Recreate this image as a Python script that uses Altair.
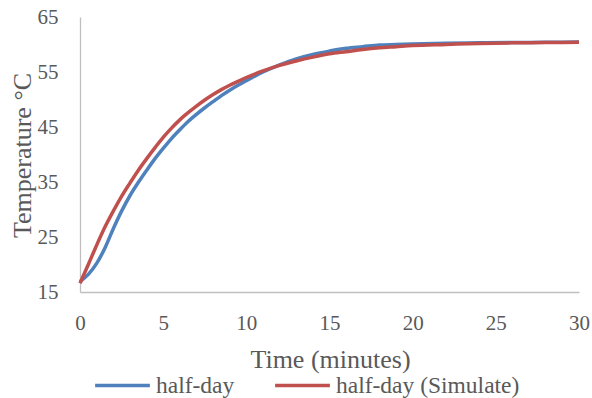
import altair as alt
import pandas as pd

# Time (minutes)
times = [0, 0.5, 1, 1.5, 2, 2.5, 3, 3.5, 4, 4.5, 5, 5.5, 6, 6.5, 7, 7.5, 8, 8.5, 9, 9.5,
         10, 11, 12, 13, 14, 15, 16, 17, 18, 19, 20, 22, 24, 26, 28, 30]
# Measured temperature (half-day)
measured = [16.9, 18.2, 20.2, 23.0, 26.5, 29.7, 32.5, 34.9, 37.1, 39.2, 41.1, 42.9, 44.5, 46.0,
            47.3, 48.5, 49.6, 50.7, 51.7, 52.6, 53.4, 55.0, 56.3, 57.4, 58.2, 58.8, 59.3, 59.6,
            59.9, 60.0, 60.1, 60.25, 60.3, 60.35, 60.4, 60.45]
# Simulated temperature (half-day (Simulate))
simulated = [16.6, 20.0, 23.5, 26.8, 29.7, 32.4, 34.8, 37.1, 39.2, 41.2, 43.1, 44.8, 46.3, 47.6,
             48.8, 49.9, 50.9, 51.8, 52.6, 53.3, 54.0, 55.2, 56.2, 57.0, 57.7, 58.3, 58.7, 59.1,
             59.4, 59.6, 59.8, 60.0, 60.2, 60.3, 60.35, 60.4]

series_names = ["half-day", "half-day (Simulate)"]
colors = ["#4F81BD", "#C0504D"]
x_ticks = [0, 5, 10, 15, 20, 25, 30]
y_ticks = [15, 25, 35, 45, 55, 65]

rows = []
for t, v in zip(times, measured):
    rows.append({"t": t, "temp": v, "series": series_names[0]})
for t, v in zip(times, simulated):
    rows.append({"t": t, "temp": v, "series": series_names[1]})
df = pd.DataFrame(rows)

FONT = "Liberation Serif"
TXT = "#595959"
AX = "#BFBFBF"

chart = alt.Chart(df).mark_line(strokeWidth=3.5, interpolate="monotone").encode(
    x=alt.X(
        "t:Q",
        scale=alt.Scale(domain=[0, 30], nice=False, zero=False),
        axis=alt.Axis(
            values=x_ticks, title="Time (minutes)", grid=False, ticks=False, tickSize=0,
            labelPadding=20, labelFont=FONT, labelFontSize=21, labelColor=TXT,
            labelFlush=False, labelOverlap=False,
            domainColor=AX, domainWidth=1.3,
            titleFont=FONT, titleFontSize=26, titleFontWeight="normal", titleColor=TXT,
            titleX=250, titleY=75, titleBaseline="alphabetic", titleAlign="center",
        ),
    ),
    y=alt.Y(
        "temp:Q",
        scale=alt.Scale(domain=[15, 65], nice=False, zero=False),
        axis=alt.Axis(
            values=y_ticks, title="Temperature °C", grid=False, ticks=False, tickSize=0,
            labelPadding=22, labelFont=FONT, labelFontSize=21, labelColor=TXT,
            labelFlush=False, labelOverlap=False,
            domainColor=AX, domainWidth=1.3,
            titleFont=FONT, titleFontSize=26, titleFontWeight="normal", titleColor=TXT,
            titleX=-50, titleY=138, titleAngle=270, titleBaseline="alphabetic",
            titleAlign="center",
        ),
    ),
    color=alt.Color(
        "series:N",
        title=None,
        scale=alt.Scale(domain=series_names, range=colors),
        legend=alt.Legend(
            orient="none", legendX=13, legendY=339, direction="horizontal",
            symbolType="stroke", symbolSize=3000, symbolStrokeWidth=3.5,
            labelFont=FONT, labelFontSize=23.5, labelColor=TXT,
            columnPadding=33, labelOffset=4, labelLimit=400,
        ),
    ),
).properties(
    width=499,
    height=275,
    padding={"left": 80, "top": 17, "right": 13, "bottom": 106},
    autosize=alt.AutoSizeParams(type="none"),
).configure_view(stroke=None)

chart.save("out.html", embed_options={"renderer": "svg", "actions": False})
